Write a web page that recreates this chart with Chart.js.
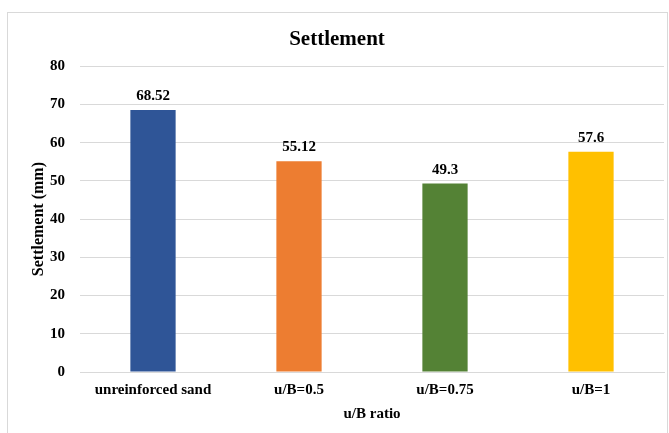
<!DOCTYPE html>
<html>
<head>
<meta charset="utf-8">
<script src="https://cdn.jsdelivr.net/npm/chart.js@4/dist/chart.umd.min.js"></script>
<style>
  html, body { margin: 0; padding: 0; background: #fff; }
  #wrap { width: 669px; height: 433px; position: relative; }
</style>
</head>
<body>
<div id="wrap"><canvas id="c"></canvas></div>
<script>
// Settlement per reinforcement configuration
const categories = ['unreinforced sand', 'u/B=0.5', 'u/B=0.75', 'u/B=1'];
const settlement = [68.52, 55.12, 49.3, 57.6];
const barColors = ['#2F5597', '#ED7D31', '#548235', '#FFC000'];
const yTicks = [0, 10, 20, 30, 40, 50, 60, 70, 80];

const FONT = '"Liberation Serif", "Times New Roman", serif';

// Outer frame of the chart area
const framePlugin = {
  id: 'frame',
  beforeDraw(chart) {
    const ctx = chart.ctx;
    ctx.save();
    ctx.fillStyle = '#fff';
    ctx.fillRect(0, 0, chart.width, chart.height);
    ctx.strokeStyle = '#D9D9D9';
    ctx.lineWidth = 1;
    ctx.strokeRect(7.5, 12.5, 660, 440);
    ctx.restore();
  }
};

// Value labels above each bar
const valueLabels = {
  id: 'valueLabels',
  afterDatasetsDraw(chart) {
    const ctx = chart.ctx;
    const meta = chart.getDatasetMeta(0);
    ctx.save();
    ctx.font = 'bold 15px ' + FONT;
    ctx.fillStyle = '#000';
    ctx.textAlign = 'center';
    ctx.textBaseline = 'alphabetic';
    meta.data.forEach((bar, i) => {
      ctx.fillText(String(chart.data.datasets[0].data[i]), bar.x, bar.y - 10);
    });
    ctx.restore();
  }
};

new Chart(document.getElementById('c'), {
  type: 'bar',
  data: {
    labels: categories,
    datasets: [{
      data: settlement,
      backgroundColor: barColors,
      barPercentage: 0.31,
      categoryPercentage: 1.0
    }]
  },
  options: {
    responsive: true,
    maintainAspectRatio: false,
    animation: false,
    layout: { padding: { top: 20, left: 10, right: 5, bottom: 8 } },
    plugins: {
      legend: { display: false },
      tooltip: { enabled: false },
      title: {
        display: true,
        text: 'Settlement',
        color: '#000',
        font: { family: FONT, size: 21, weight: 'bold' },
        padding: { top: 7, bottom: 14 }
      }
    },
    scales: {
      x: {
        grid: { display: false, drawTicks: false },
        border: { display: true, color: '#D9D9D9' },
        ticks: {
          color: '#000',
          padding: 9,
          maxRotation: 0,
          font: { family: FONT, size: 15, weight: 'bold' }
        },
        title: {
          display: true,
          text: 'u/B ratio',
          color: '#000',
          font: { family: FONT, size: 15, weight: 'bold' },
          padding: { top: 4, bottom: 2 }
        },
        afterFit(scale) { scale.height = 53; }
      },
      y: {
        min: 0,
        max: 80,
        afterBuildTicks(scale) { scale.ticks = yTicks.map(v => ({ value: v })); },
        grid: { color: '#D9D9D9', drawTicks: false },
        border: { display: false },
        ticks: {
          color: '#000',
          padding: 15,
          font: { family: FONT, size: 15, weight: 'bold' }
        },
        title: {
          display: true,
          text: 'Settlement (mm)',
          color: '#000',
          font: { family: FONT, size: 16, weight: 'bold' },
          padding: { top: 19, bottom: 0 }
        },
        afterFit(scale) { scale.width = 70; }
      }
    }
  },
  plugins: [framePlugin, valueLabels]
});
</script>
</body>
</html>
